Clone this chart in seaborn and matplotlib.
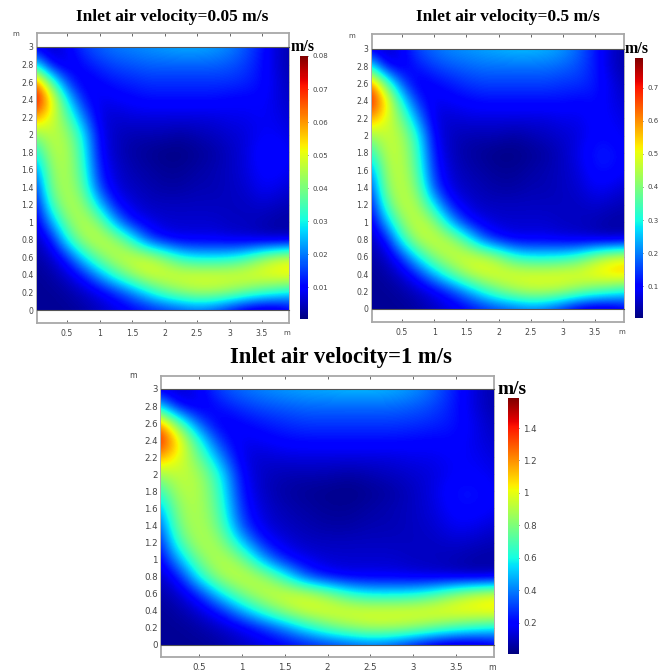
#!/bin/env python3
# Three velocity maps of the room, one per inlet air velocity
import matplotlib
matplotlib.use("Agg")
import matplotlib.pyplot as plt
import numpy as np
import seaborn as sns

W, H = 664, 671

# grid nodes of the readings (m)
x_nodes = [0, .25, .5, .75, 1, 1.25, 1.5, 1.75, 2, 2.25, 2.5, 2.75, 3, 3.25, 3.5, 3.75, 4]
y_nodes = [3, 2.8, 2.6, 2.4, 2.2, 2, 1.8, 1.6, 1.4, 1.2, 1, .8, .6, .4, .2, 0]
x_step = .25

# inlet 0.05 m/s, read in 0.001 m/s
speed_a = [
    [8, 5, 9, 15, 18, 20, 21, 22, 23, 24, 24, 23, 21, 17, 12, 6, 3],
    [30, 9, 7, 11, 14, 16, 17, 18, 18, 18, 18, 18, 17, 15, 11, 6, 3],
    [66, 38, 15, 8, 10, 12, 13, 14, 14, 14, 14, 14, 14, 13, 11, 7, 4],
    [77, 55, 29, 12, 8, 9, 10, 11, 11, 11, 11, 11, 10, 10, 10, 7, 5],
    [60, 50, 38, 20, 7, 6, 7, 7, 7, 7, 7, 7, 8, 8, 9, 8, 6],
    [41, 47, 44, 29, 9, 5, 4, 4, 4, 3, 4, 5, 6, 7, 9, 9, 7],
    [29, 45, 46, 32, 10, 5, 3, 2, 1, 1, 2, 3, 5, 7, 11, 11, 8],
    [19, 42, 46, 34, 12, 6, 4, 3, 2, 2, 3, 4, 5, 7, 10, 10, 8],
    [12, 40, 46, 37, 15, 7, 5, 4, 3, 3, 4, 4, 5, 6, 9, 8, 6],
    [8, 33, 46, 43, 26, 11, 7, 5, 5, 5, 5, 5, 5, 5, 6, 5, 4],
    [6, 22, 40, 47, 41, 23, 11, 8, 6, 6, 6, 6, 5, 5, 4, 3, 3],
    [4, 10, 30, 44, 48, 44, 32, 16, 10, 8, 8, 8, 7, 6, 5, 4, 5],
    [3, 5, 13, 28, 40, 47, 49, 48, 41, 32, 29, 29, 30, 34, 42, 48, 50],
    [2, 3, 6, 12, 23, 34, 43, 49, 50, 50, 50, 50, 50, 51, 52, 53, 54],
    [2, 2, 3, 5, 8, 13, 20, 29, 37, 42, 45, 45, 43, 39, 35, 32, 28],
    [2, 2, 2, 3, 5, 7, 9, 11, 13, 15, 17, 15, 10, 5, 3, 4, 9],
]

# inlet 0.5 m/s, read in 0.01 m/s
speed_b = [
    [8, 5, 9, 16, 19, 21, 22, 23, 24, 25, 25, 24, 22, 18, 12, 6, 3],
    [31, 9, 8, 12, 15, 17, 18, 19, 19, 19, 19, 19, 18, 16, 12, 6, 3],
    [64, 39, 16, 8, 10, 12, 14, 15, 15, 15, 15, 15, 14, 14, 12, 8, 4],
    [73, 54, 30, 13, 8, 9, 10, 11, 11, 11, 11, 11, 11, 10, 11, 8, 6],
    [59, 50, 39, 21, 7, 6, 7, 7, 7, 7, 7, 7, 8, 8, 10, 9, 7],
    [42, 47, 45, 30, 9, 5, 4, 4, 4, 3, 4, 5, 6, 7, 10, 10, 8],
    [30, 46, 46, 33, 11, 5, 3, 2, 1, 1, 2, 3, 5, 8, 12, 12, 9],
    [20, 43, 47, 35, 13, 6, 4, 3, 2, 2, 3, 4, 5, 7, 11, 11, 9],
    [13, 41, 47, 39, 16, 7, 5, 4, 3, 3, 4, 4, 5, 6, 9, 8, 6],
    [9, 34, 47, 44, 28, 12, 7, 5, 5, 5, 5, 5, 5, 5, 6, 5, 4],
    [6, 23, 41, 48, 42, 25, 12, 8, 6, 6, 6, 6, 5, 5, 4, 3, 3],
    [4, 10, 31, 45, 48, 45, 34, 18, 11, 8, 8, 8, 7, 6, 5, 4, 5],
    [3, 5, 14, 29, 41, 47, 49, 48, 42, 33, 30, 30, 31, 35, 43, 49, 51],
    [2, 3, 6, 13, 24, 35, 44, 49, 50, 50, 50, 50, 51, 51, 53, 55, 56],
    [2, 2, 3, 5, 8, 13, 21, 30, 38, 43, 46, 46, 44, 40, 36, 33, 29],
    [2, 2, 2, 3, 5, 7, 9, 12, 14, 16, 18, 16, 11, 5, 3, 4, 8],
]

# inlet 1 m/s, read in 0.01 m/s
speed_c = [
    [16, 10, 18, 32, 38, 42, 45, 47, 48, 50, 50, 48, 44, 36, 24, 12, 6],
    [60, 18, 15, 23, 29, 33, 35, 37, 37, 37, 37, 37, 35, 31, 23, 12, 6],
    [128, 78, 32, 16, 20, 24, 27, 29, 29, 29, 29, 29, 28, 26, 23, 15, 8],
    [150, 110, 62, 25, 16, 18, 21, 22, 22, 22, 22, 22, 21, 20, 21, 15, 11],
    [118, 102, 78, 42, 14, 12, 14, 14, 14, 14, 14, 14, 16, 16, 19, 17, 13],
    [84, 94, 90, 60, 18, 10, 8, 8, 8, 6, 8, 10, 12, 14, 19, 19, 15],
    [60, 90, 92, 66, 21, 10, 6, 4, 3, 2, 4, 6, 10, 15, 23, 23, 17],
    [40, 84, 92, 70, 25, 12, 8, 6, 4, 4, 6, 8, 10, 14, 21, 21, 17],
    [24, 80, 92, 76, 31, 14, 10, 8, 6, 6, 8, 8, 10, 12, 18, 16, 12],
    [16, 66, 92, 86, 52, 23, 14, 10, 10, 10, 10, 10, 10, 10, 12, 10, 8],
    [12, 44, 80, 94, 82, 46, 23, 16, 12, 12, 12, 12, 10, 10, 8, 6, 6],
    [8, 20, 60, 88, 96, 88, 64, 32, 20, 16, 16, 16, 14, 12, 10, 8, 10],
    [6, 10, 26, 56, 80, 94, 98, 96, 84, 66, 58, 58, 60, 69, 85, 96, 101],
    [4, 6, 12, 24, 46, 68, 86, 98, 100, 100, 100, 100, 101, 103, 105, 106, 108],
    [4, 4, 6, 10, 16, 26, 40, 58, 74, 84, 90, 90, 86, 78, 70, 64, 58],
    [4, 4, 4, 6, 10, 14, 18, 22, 26, 30, 34, 30, 20, 10, 6, 8, 16],
]

titles = ["Inlet air velocity=0.05 m/s", "Inlet air velocity=0.5 m/s", "Inlet air velocity=1 m/s"]
units = [0.001, 0.01, 0.01]
speed_max = [0.08, 0.79, 1.585]
cbar_ticks = [
    [.01, .02, .03, .04, .05, .06, .07, .08],
    [.1, .2, .3, .4, .5, .6, .7],
    [.2, .4, .6, .8, 1, 1.2, 1.4],
]
x_ticks = [.5, 1, 1.5, 2, 2.5, 3, 3.5]
y_ticks = np.round(np.arange(0, 3.01, .2), 1)

# pixel boxes: frame l,r,t,b / y=3 and y=0 rows / x=.5 and x=3.5 / colorbar l,r,t,b
panels = [
    dict(frame=(37, 289, 33, 323), y3=47, y0=310, x05=67, x35=262, bar=(300, 308, 56, 319),
         title=(172, 17), title_fs=12.5, unit=(303, 47), unit_fs=11.5, tick_fs=5.6, bar_fs=5, m_top=(16, 34)),
    dict(frame=(372, 624, 34, 322), y3=49, y0=309, x05=402, x35=595, bar=(635, 643, 58, 318),
         title=(508, 17), title_fs=12.5, unit=(637, 49), unit_fs=11.5, tick_fs=5.6, bar_fs=5, m_top=(352, 36)),
    dict(frame=(161, 494, 376, 657), y3=389, y0=645, x05=199, x35=456, bar=(508, 519, 398, 654),
         title=(341, 358), title_fs=16.3, unit=(512, 389), unit_fs=14, tick_fs=6.2, bar_fs=6.2, m_top=(133, 376)),
]

GREY = "#a8a8a8"
TXT = "#444444"


def box(l, r, t, b):
    return [l / W, 1 - b / H, (r - l) / W, (b - t) / H]


sns.set_theme(style="white")
plt.rcParams['font.family'] = ['DejaVu Sans']
fig = plt.figure(figsize=(W / 100, H / 100), dpi=100)

for p, grid, unit, vmax, ticks, title in zip(panels, [speed_a, speed_b, speed_c], units,
                                             speed_max, cbar_ticks, titles):
    l, r, t, b = p['frame']
    # frame axes carries the real scale, the white strips and the ticks
    frame = fig.add_axes(box(l, r, t, b))
    ppm_x = (p['x35'] - p['x05']) / 3.0
    ppm_y = (p['y0'] - p['y3']) / 3.0
    frame.set_xlim(.5 + (l - p['x05']) / ppm_x, .5 + (r - p['x05']) / ppm_x)
    frame.set_ylim((p['y0'] - b) / ppm_y, (p['y0'] - t) / ppm_y)
    frame.set_xticks(x_ticks, ["%g" % v for v in x_ticks])
    frame.set_yticks(y_ticks, ["%g" % v for v in y_ticks])
    frame.tick_params(direction='in', length=2.5, width=.7, color="#666666", labelcolor=TXT,
                      labelsize=p['tick_fs'], top=True, right=True, left=True, bottom=True)
    frame.tick_params(axis='y', pad=2.5)
    frame.tick_params(axis='x', pad=4.5)
    for s in frame.spines.values():
        s.set_color(GREY)
        s.set_linewidth(1.3)

    # the field itself, nodes stretched over the data part of the frame
    inner = fig.add_axes(box(l, r, p['y3'], p['y0']))
    cax = fig.add_axes(box(*p['bar']))
    data = np.array(grid) * unit
    sns.heatmap(data, ax=inner, cmap='jet', vmin=vmax * .005, vmax=vmax,
                xticklabels=False, yticklabels=False, cbar_ax=cax,
                cbar_kws={'ticks': ticks, 'format': '%g'})
    # smooth display of the same cells, the original is a continuous field
    inner.collections[0].set_visible(False)
    inner.imshow(data, cmap='jet', norm=inner.collections[0].norm, interpolation='bicubic',
                 extent=(0, len(x_nodes), len(y_nodes), 0), aspect='auto')
    # heatmap cell centres sit at index+.5
    inner.set_xlim(.5 + frame.get_xlim()[0] / x_step, .5 + frame.get_xlim()[1] / x_step)
    inner.set_ylim(len(y_nodes) - .5, .5)
    for name, s in inner.spines.items():
        s.set_visible(name in ('top', 'bottom'))
        s.set_color("#555555")
        s.set_linewidth(.8)

    cax.tick_params(length=2, width=.6, direction='in', color="#333333", labelcolor=TXT,
                    labelsize=p['bar_fs'], pad=3, right=True, left=True)

    fig.text(p['title'][0] / W, 1 - p['title'][1] / H, title, family='Liberation Serif',
             weight='bold', size=p['title_fs'], color='black', ha='center', va='center')
    fig.text(p['unit'][0] / W, 1 - p['unit'][1] / H, "m/s", family='Liberation Serif',
             weight='bold', size=p['unit_fs'], color='black', ha='center', va='center')
    fig.text(p['m_top'][0] / W, 1 - p['m_top'][1] / H, "m", size=p['tick_fs'] - .6, color=TXT,
             ha='center', va='center')
    fig.text((r - 2) / W, 1 - (b + 10) / H, "m", size=p['tick_fs'] - .6, color=TXT, ha='center', va='center')

fig.savefig("out.png", dpi=100)
